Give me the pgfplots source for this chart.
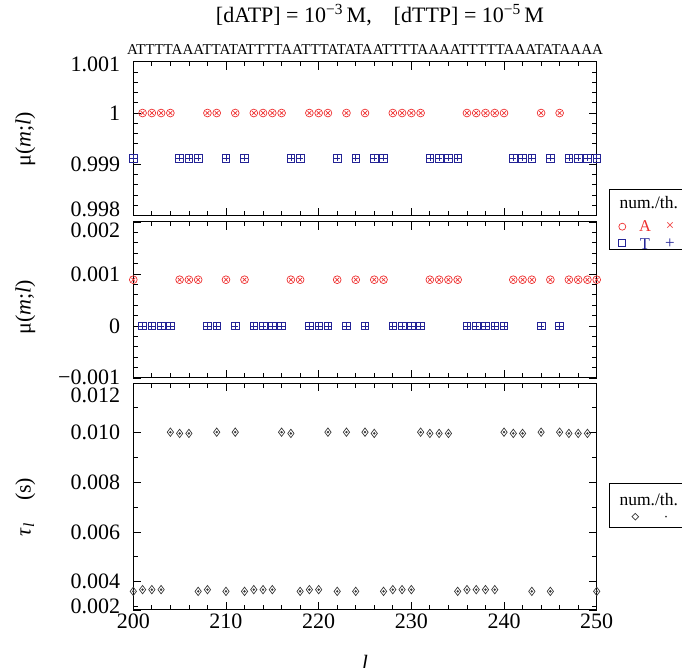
\documentclass[border=0pt]{standalone}
\usepackage{pgfplots}
\pgfplotsset{compat=1.18}
\usepackage{pgfplotstable}
\usetikzlibrary{shapes.geometric}
\usepackage{fontspec}
\setmainfont{Liberation Serif}

\definecolor{redA}{RGB}{238,48,48}
\definecolor{blueT}{RGB}{36,36,150}
\definecolor{diam}{RGB}{55,55,55}

% T positions: A curve at 1 (top), T curve at 0 (middle)
\pgfplotstableread{
l   top  mid
201 1    0
202 1    0
203 1    0
204 1    0
208 1    0
209 1    0
211 1    0
213 1    0
214 1    0
215 1    0
216 1    0
219 1    0
220 1    0
221 1    0
223 1    0
225 1    0
228 1    0
229 1    0
230 1    0
231 1    0
236 1    0
237 1    0
238 1    0
239 1    0
240 1    0
244 1    0
246 1    0
}\tpos

% A positions: T curve (top), A curve (middle)
\pgfplotstableread{
l   top      mid
200 0.99912  0.00089
205 0.99912  0.00089
206 0.99912  0.00089
207 0.99912  0.00089
210 0.99912  0.00089
212 0.99912  0.00089
217 0.99912  0.00089
218 0.99912  0.00089
222 0.99912  0.00089
224 0.99912  0.00089
226 0.99912  0.00089
227 0.99912  0.00089
232 0.99912  0.00089
233 0.99912  0.00089
234 0.99912  0.00089
235 0.99912  0.00089
241 0.99912  0.00089
242 0.99912  0.00089
243 0.99912  0.00089
245 0.99912  0.00089
247 0.99912  0.00089
248 0.99912  0.00089
249 0.99912  0.00089
250 0.99912  0.00089
}\apos

\pgfplotstableread{
l   tau
200 0.00361
201 0.00368
202 0.00368
203 0.00368
204 0.01002
205 0.00997
206 0.00997
207 0.00361
208 0.00368
209 0.01002
210 0.00361
211 0.01002
212 0.00361
213 0.00368
214 0.00368
215 0.00368
216 0.01002
217 0.00997
218 0.00361
219 0.00368
220 0.00368
221 0.01002
222 0.00361
223 0.01002
224 0.00361
225 0.01002
226 0.00997
227 0.00361
228 0.00368
229 0.00368
230 0.00368
231 0.01002
232 0.00997
233 0.00997
234 0.00997
235 0.00361
236 0.00368
237 0.00368
238 0.00368
239 0.00368
240 0.01002
241 0.00997
242 0.00997
243 0.00361
244 0.01002
245 0.00361
246 0.01002
247 0.00997
248 0.00997
249 0.00997
250 0.00361
}\taudata

\newcommand{\sh}[2]{\raisebox{#1}[\height][\depth]{#2}}

\pgfplotsset{
  panel/.style={
    scale only axis, width=463.4pt,
    xmin=200, xmax=250,
    xtick={200,210,...,250}, minor x tick num=4,
    major tick length=8pt, minor tick length=4.5pt,
    every tick/.style={black, line width=0.8pt},
    axis line style={black, line width=1pt},
    tick label style={font=\fontsize{22}{24}\selectfont},
    yticklabel style={inner sep=1pt, xshift=-12pt},
    /pgf/number format/assume math mode=true,
    scaled y ticks=false,
    ylabel style={font=\fontsize{22}{24}\selectfont},
    clip=false,
  },
  numA/.style={only marks, mark=o, mark size=3.9pt, mark options={draw=redA, line width=0.7pt}},
  thA/.style={only marks, mark=x, mark size=2.6pt, mark options={draw=redA, line width=0.7pt}},
  numT/.style={only marks, mark=square, mark size=3.8pt, mark options={draw=blueT, line width=0.7pt}},
  thT/.style={only marks, mark=+, mark size=3.2pt, mark options={draw=blueT, line width=0.7pt}},
}

\begin{document}
\begin{tikzpicture}[x=1pt,y=1pt]
\path[use as bounding box] (0,0) rectangle (682,668);

% top panel
\begin{axis}[panel, at={(133.3pt,452.3pt)}, anchor=south west, height=154pt,
    ymin=0.998, ymax=1.001,
    ytick={0.998,0.999,1,1.001},
    yticklabels={\sh{6pt}{0.998},0.999,1,\sh{-3pt}{1.001}},
    minor y tick num=4, xticklabels={},
    ylabel={μ(\textit{m};\textit{l})},
    ylabel style={at={(axis description cs:-0.233,0.495)}, anchor=center}]
  \addplot+[numA] table[x=l,y=top] {\tpos};
  \addplot+[thA]  table[x=l,y=top] {\tpos};
  \addplot+[numT] table[x=l,y=top] {\apos};
  \addplot+[thT]  table[x=l,y=top] {\apos};
\end{axis}

% middle panel
\begin{axis}[panel, at={(133.3pt,290pt)}, anchor=south west, height=156pt,
    ymin=-0.001, ymax=0.002,
    ytick={-0.001,0,0.001,0.002},
    yticklabels={\sh{1pt}{−0.001},0,0.001,\sh{-8pt}{0.002}},
    minor y tick num=4, xticklabels={},
    ylabel={μ(\textit{m};\textit{l})},
    ylabel style={at={(axis description cs:-0.233,0.455)}, anchor=center}]
  \addplot+[numA] table[x=l,y=mid] {\apos};
  \addplot+[thA]  table[x=l,y=mid] {\apos};
  \addplot+[numT] table[x=l,y=mid] {\tpos};
  \addplot+[thT]  table[x=l,y=mid] {\tpos};
\end{axis}

% bottom panel
\begin{axis}[panel, at={(133.3pt,58pt)}, anchor=south west, height=227pt,
    ymin=0.00286, ymax=0.012,
    ytick={0.00286,0.004,0.006,0.008,0.010,0.012},
    yticklabels={\sh{4pt}{0.002},0.004,0.006,0.008,0.010,\sh{-12pt}{0.012}},
    minor ytick={0.003,0.005,0.007,0.009,0.011},
    xlabel={\textit{l}},
    xlabel style={font=\fontsize{22}{24}\selectfont, at={(axis description cs:0.5,-0.235)}, anchor=center},
    ylabel={\textit{τ}\textsubscript{\textit{l}}\quad(s)},
    ylabel style={at={(axis description cs:-0.233,0.454)}, anchor=center}]
  \addplot+[only marks, mark=diamond, mark size=4.2pt, mark options={draw=diam, line width=0.7pt}] table[x=l,y=tau] {\taudata};
  \addplot+[only marks, mark=*, mark size=1pt, mark options={draw=diam, fill=diam}] table[x=l,y=tau] {\taudata};
\end{axis}

% title and sequence
\node[font=\fontsize{22}{24}\selectfont] at (380,653) {[dATP] = 10\textsuperscript{−3}\,M,\quad[dTTP] = 10\textsuperscript{−5}\,M};
\node[font=\fontsize{15}{17}\selectfont] at (365,618) {ATTTTAAATTATATTTTAATTTATATAATTTTAAAATTTTTAAATATAAAA};

% legend of the mu panels
\draw[line width=0.8pt] (609,419) rectangle (700,479);
\node[anchor=west, font=\fontsize{17.5}{19}\selectfont] at (616,465.3) {num./th.};
\node[draw=redA, circle, minimum size=7pt, inner sep=0pt, line width=0.7pt] at (622.3,441.3) {};
\node[text=redA, inner sep=0pt, font=\fontsize{16.5}{18}\selectfont] at (645,441.8) {A};
\node[text=redA, inner sep=0pt, font=\fontsize{15}{17}\selectfont] at (670,441.3) {×};
\node[draw=blueT, rectangle, minimum size=7pt, inner sep=0pt, line width=0.7pt] at (622.3,424.7) {};
\node[text=blueT, inner sep=0pt, font=\fontsize{16.5}{18}\selectfont] at (645,424.2) {T};
\node[text=blueT, inner sep=0pt, font=\fontsize{17}{19}\selectfont] at (670,424.7) {+};

% legend of the tau panel
\draw[line width=0.8pt] (609,141) rectangle (700,185);
\node[anchor=west, font=\fontsize{17.5}{19}\selectfont] at (616,168) {num./th.};
\node[draw=diam, diamond, minimum size=7pt, inner sep=0pt, line width=0.7pt] at (635.3,151.3) {};
\fill[diam] (666,151.3) circle (1pt);
\end{tikzpicture}
\end{document}
